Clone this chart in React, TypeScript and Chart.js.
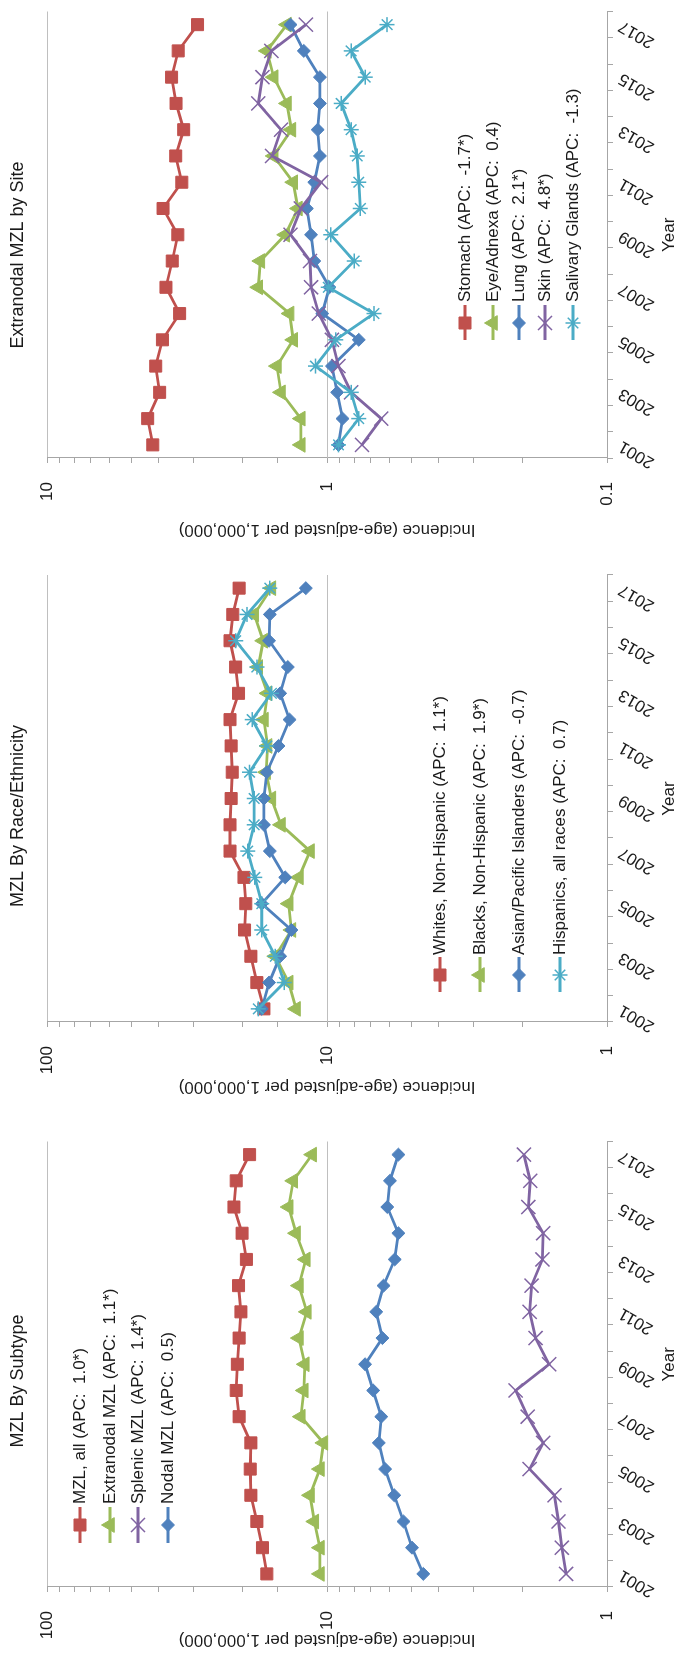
import { useEffect, useRef } from 'react';
import { Chart, registerables } from 'chart.js';
import { drawPoint } from 'chart.js/helpers';

Chart.register(...registerables);

// ---------------- data ----------------
const YEARS = ['2001', '2002', '2003', '2004', '2005', '2006', '2007', '2008', '2009', '2010', '2011', '2012', '2013', '2014', '2015', '2016', '2017'];

// Panel 1: MZL By Subtype
const SUBTYPE_NAMES = ['MZL, all (APC:  1.0*)', 'Extranodal MZL (APC:  1.1*)', 'Splenic MZL (APC:  1.4*)', 'Nodal MZL (APC:  0.5)'];
const MZL_ALL = [16.4, 17.0, 17.8, 18.7, 18.8, 18.7, 20.6, 21.1, 20.9, 20.6, 20.3, 20.7, 19.4, 20.1, 21.5, 21.1, 18.9];
const EXTRANODAL = [10.6, 10.6, 11.1, 11.5, 10.6, 10.3, 12.4, 12.1, 12.0, 12.6, 11.8, 12.6, 11.9, 12.9, 13.7, 13.2, 11.3];
const SPLENIC = [1.40, 1.45, 1.49, 1.54, 1.89, 1.69, 1.92, 2.12, 1.61, 1.80, 1.89, 1.86, 1.70, 1.69, 1.91, 1.88, 1.98];
const NODAL = [4.53, 4.97, 5.33, 5.75, 6.20, 6.53, 6.40, 6.84, 7.31, 6.34, 6.67, 6.28, 5.73, 5.56, 6.09, 5.96, 5.56];

// Panel 2: MZL By Race/Ethnicity
const RACE_NAMES = ['Whites, Non-Hispanic (APC:  1.1*)', 'Blacks, Non-Hispanic (APC:  1.9*)', 'Asian/Pacific Islanders (APC:  -0.7)', 'Hispanics, all races (APC:  0.7)'];
const WHITES = [16.8, 17.8, 18.7, 19.7, 19.5, 19.8, 22.2, 22.2, 22.0, 21.8, 22.0, 22.2, 20.7, 21.2, 22.2, 21.7, 20.6];
const BLACKS = [12.9, 13.7, 15.3, 13.4, 13.7, 12.6, 11.5, 14.6, 15.8, 16.5, 16.3, 16.8, 16.3, 17.6, 16.9, 18.2, 15.8];
const ASIAN_PI = [17.1, 16.1, 14.7, 13.4, 17.1, 14.1, 16.0, 16.8, 16.8, 16.4, 14.9, 13.6, 14.7, 13.8, 16.1, 16.0, 11.9];
const HISPANICS = [17.6, 14.2, 15.3, 17.1, 17.1, 18.1, 19.2, 18.2, 18.2, 18.9, 16.4, 18.5, 15.8, 17.8, 21.2, 19.3, 16.0];

// Panel 3: Extranodal MZL by Site
const SITE_NAMES = ['Stomach (APC:  -1.7*)', 'Eye/Adnexa (APC:  0.4)', 'Lung (APC:  2.1*)', 'Skin (APC:  4.8*)', 'Salivary Glands (APC:  -1.3)'];
const STOMACH = [4.19, 4.37, 3.96, 4.09, 3.87, 3.36, 3.76, 3.57, 3.41, 3.85, 3.30, 3.47, 3.25, 3.46, 3.59, 3.40, 2.90];
const EYE_ADNEXA = [1.24, 1.24, 1.46, 1.51, 1.32, 1.36, 1.76, 1.73, 1.41, 1.27, 1.32, 1.55, 1.34, 1.39, 1.55, 1.64, 1.39];
const LUNG = [0.91, 0.88, 0.92, 0.96, 0.77, 1.04, 0.98, 1.11, 1.14, 1.18, 1.11, 1.06, 1.08, 1.06, 1.06, 1.21, 1.35];
const SKIN = [0.75, 0.64, 0.82, 0.91, 0.96, 1.07, 1.14, 1.15, 1.35, 1.24, 1.05, 1.57, 1.46, 1.76, 1.70, 1.58, 1.19];
const SALIVARY = [0.91, 0.77, 0.82, 1.10, 0.93, 0.68, 0.99, 0.80, 0.97, 0.76, 0.77, 0.78, 0.82, 0.89, 0.73, 0.82, 0.61];

const TITLES = ['MZL By Subtype', 'MZL By Race/Ethnicity', 'Extranodal MZL by Site'];
const Y_TITLE = 'Incidence (age-adjusted per 1,000,000)';
const X_TITLE = 'Year';

// ---------------- styles ----------------
const FONT = "'Liberation Sans', Arial, Helvetica, sans-serif";
const TEXT = '#1a1a1a';
const AXIS = '#a6a6a6';
const GRID = '#bfbfbf';
const LINE_W = 2.8;

const RED = '#c0504d';
const GREEN = '#9bbb59';
const PURPLE = '#8064a2';
const BLUE = '#4f81bd';
const AQUA = '#4bacc6';

type Mk = { color: string; style: string; radius: number; bw: number };
const SQUARE: Mk = { color: RED, style: 'rect', radius: 8.5, bw: 1 };
const TRI: Mk = { color: GREEN, style: 'triangle', radius: 8.5, bw: 1 };
const XMARK: Mk = { color: PURPLE, style: 'crossRot', radius: 10, bw: 1.5 };
const DIAM: Mk = { color: BLUE, style: 'rectRot', radius: 6.5, bw: 1 };
const STAR: Mk = { color: AQUA, style: 'star', radius: 7.5, bw: 1.5 };

type Panel = {
  key: string;
  title: string;
  names: string[];
  values: number[][];
  marks: Mk[];
  min: number;
  max: number;
  left: number;
  yWidth: number;
  width: number;
  titleX: number;
  legendY: number[];
  legendLine: [number, number];
  legendMarker: number;
  legendText: number;
};

const PANELS: Panel[] = [
  {
    key: 'subtype', title: TITLES[0], names: SUBTYPE_NAMES,
    values: [MZL_ALL, EXTRANODAL, SPLENIC, NODAL],
    marks: [SQUARE, TRI, XMARK, DIAM],
    min: 1, max: 100,
    left: 6, yWidth: 64, width: 521, titleX: 270,
    legendY: [80, 110, 138, 168], legendLine: [108, 144], legendMarker: 126, legendText: 147,
  },
  {
    key: 'race', title: TITLES[1], names: RACE_NAMES,
    values: [WHITES, BLACKS, ASIAN_PI, HISPANICS],
    marks: [SQUARE, TRI, DIAM, STAR],
    min: 1, max: 100,
    left: 559, yWidth: 76, width: 533, titleX: 282,
    legendY: [440, 480, 519, 560], legendLine: [106, 141], legendMarker: 123, legendText: 143,
  },
  {
    key: 'site', title: TITLES[2], names: SITE_NAMES,
    values: [STOMACH, EYE_ADNEXA, LUNG, SKIN, SALIVARY],
    marks: [SQUARE, TRI, DIAM, XMARK, STAR],
    min: 0.1, max: 10,
    left: 1116, yWidth: 83, width: 541, titleX: 286,
    legendY: [465, 493, 519, 545, 573], legendLine: [201, 236], legendMarker: 218, legendText: 239,
  },
];

const isDecade = (v: number) => {
  const l = Math.log10(v);
  return Math.abs(l - Math.round(l)) < 1e-7;
};
const fmt = (v: number) => (v >= 1 ? String(Math.round(v)) : String(Math.round(v * 10) / 10));

function buildConfig(p: Panel): any {
  const decor = {
    id: 'excelDecor',
    afterDraw(chart: any) {
      const ctx = chart.ctx as CanvasRenderingContext2D;
      ctx.save();
      ctx.fillStyle = TEXT;
      ctx.font = `18px ${FONT}`;
      ctx.textAlign = 'center';
      ctx.textBaseline = 'middle';
      ctx.fillText(p.title, p.titleX, 18);
      p.names.forEach((name, i) => {
        const m = p.marks[i];
        const y = p.legendY[i];
        ctx.strokeStyle = m.color;
        ctx.lineWidth = LINE_W;
        ctx.beginPath();
        ctx.moveTo(p.legendLine[0], y);
        ctx.lineTo(p.legendLine[1], y);
        ctx.stroke();
        ctx.fillStyle = m.color;
        ctx.strokeStyle = m.color;
        ctx.lineWidth = m.bw;
        drawPoint(ctx, { pointStyle: m.style as any, radius: m.radius, rotation: 0, borderWidth: m.bw }, p.legendMarker, y);
        ctx.fillStyle = TEXT;
        ctx.font = `17px ${FONT}`;
        ctx.textAlign = 'left';
        ctx.textBaseline = 'middle';
        ctx.fillText(name, p.legendText, y);
      });
      ctx.restore();
    },
  };

  return {
    type: 'line',
    data: {
      labels: YEARS,
      datasets: p.values.map((vals, i) => {
        const m = p.marks[i];
        return {
          label: p.names[i],
          data: vals,
          borderColor: m.color,
          backgroundColor: m.color,
          pointBackgroundColor: m.color,
          pointBorderColor: m.color,
          pointStyle: m.style,
          pointRadius: m.radius,
          pointHoverRadius: m.radius,
          pointBorderWidth: m.bw,
          borderWidth: LINE_W,
          tension: 0,
          fill: false,
          order: p.values.length - i,
        };
      }),
    },
    options: {
      responsive: false,
      animation: false,
      devicePixelRatio: 1,
      events: [],
      layout: { padding: { top: 47, right: 10, left: 0, bottom: 0 } },
      plugins: {
        legend: { display: false },
        title: { display: false },
        tooltip: { enabled: false },
      },
      scales: {
        x: {
          type: 'category',
          offset: true,
          afterFit: (s: any) => { s.height = 74; },
          grid: { offset: true, drawOnChartArea: false, drawTicks: true, tickLength: 6, tickColor: AXIS, lineWidth: 1 },
          border: { display: true, color: AXIS, width: 1 },
          ticks: {
            autoSkip: false,
            minRotation: 60,
            maxRotation: 60,
            padding: 2,
            color: TEXT,
            font: { family: FONT, size: 17 },
            callback: (_v: any, i: number) => (i % 2 === 0 ? YEARS[i] : ''),
          },
          title: { display: true, text: X_TITLE, color: TEXT, font: { family: FONT, size: 17 }, padding: { top: 0, bottom: 1 } },
        },
        y: {
          type: 'logarithmic',
          min: p.min,
          max: p.max,
          afterFit: (s: any) => { s.width = p.yWidth; },
          grid: {
            color: (c: any) => (c.tick && isDecade(c.tick.value) ? GRID : 'rgba(0,0,0,0)'),
            tickColor: AXIS,
            tickLength: 5,
            drawTicks: true,
            lineWidth: 1,
          },
          border: { display: true, color: AXIS, width: 1 },
          ticks: {
            autoSkip: false,
            padding: 19,
            color: TEXT,
            font: { family: FONT, size: 17 },
            callback: (v: any) => (isDecade(Number(v)) ? fmt(Number(v)) : ''),
          },
          title: { display: true, text: Y_TITLE, color: TEXT, font: { family: FONT, size: 17 }, padding: { top: 1, bottom: 0 } },
        },
      },
    },
    plugins: [decor],
  };
}

export default function App() {
  const r0 = useRef<HTMLCanvasElement>(null);
  const r1 = useRef<HTMLCanvasElement>(null);
  const r2 = useRef<HTMLCanvasElement>(null);
  const refs = [r0, r1, r2];

  useEffect(() => {
    document.body.style.margin = '0';
    const charts = PANELS.map((p, i) => new Chart(refs[i].current as HTMLCanvasElement, buildConfig(p)));
    return () => charts.forEach((c) => c.destroy());
  }, []);

  return (
    <div style={{ position: 'absolute', left: 0, top: 0, width: 681, height: 1657, overflow: 'hidden', background: '#ffffff' }}>
      <div
        style={{
          position: 'absolute', left: 0, top: 0, width: 1657, height: 681,
          transformOrigin: '0 0', transform: 'translateY(1657px) rotate(-90deg)',
        }}
      >
        {PANELS.map((p, i) => (
          <canvas
            key={p.key}
            ref={refs[i]}
            width={p.width}
            height={681}
            style={{ position: 'absolute', left: p.left, top: 0, width: p.width, height: 681 }}
          />
        ))}
      </div>
    </div>
  );
}
